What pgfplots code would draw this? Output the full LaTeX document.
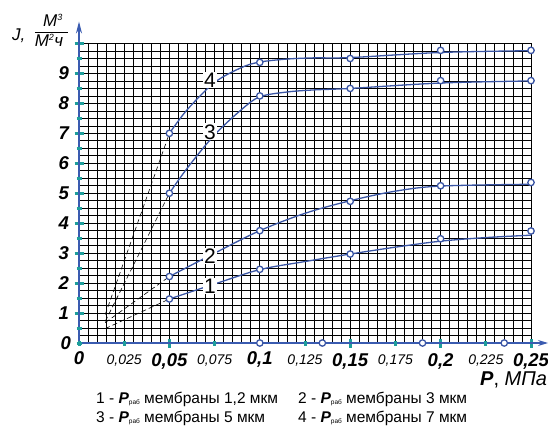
\documentclass[border=0pt]{standalone}
\usepackage{fontspec}
\setmainfont{Liberation Sans}
\usepackage{pgfplots}
\pgfplotsset{compat=1.18}
\usetikzlibrary{arrows.meta}
\definecolor{crvblue}{HTML}{3A55A4}
\definecolor{axblue}{HTML}{3A5BB0}
\definecolor{tickteal}{HTML}{1E9E9B}
\newcommand{\fs}[1]{\fontsize{#1}{#1}\selectfont}
\newcommand{\Prab}{{\bfseries\itshape P}\raisebox{-1.5pt}{\fs{6.5}раб}}
\pgfplotsset{
  crv/.style={crvblue, line width=1.3pt, smooth, tension=0.55},
  pts/.style={only marks, mark=*, mark size=3.2pt,
    mark options={draw=crvblue, fill=white, line width=1.3pt}},
  ext/.style={black, line width=0.6pt, dash pattern=on 5pt off 3pt},
}
\begin{document}
\begin{tikzpicture}
\begin{axis}[
  at={(0,0)}, anchor=origin,
  scale only axis, width=452pt, height=299.5pt,
  xmin=0, xmax=0.25, ymin=0, ymax=10,
  clip=false,
  axis lines=left,
  axis line style={axblue, line width=1.3pt},
  x axis line style={-{Stealth[length=10pt,width=6pt]}, shorten >=-17pt},
  y axis line style={-{Stealth[length=12pt,width=6pt]}, shorten >=-22pt},
  grid=minor,
  minor grid style={black, line width=0.7pt},
  minor xtick={0,0.005,...,0.25},
  minor ytick={0,0.25,...,10},
  minor tick length=0pt,
  tick align=center,
  major tick length=9pt,
  xtick={0.05,0.15,0.2,0.25},
  xticklabels={{0,05},{0,15},{0,2},{0,25}},
  ytick={1,2,...,10},
  yticklabels={1,2,3,4,5,6,7,8,9,{}},
  every major tick/.append style={tickteal, line width=3pt},
  ticklabel style={font=\fs{18.5}\bfseries\itshape},
  xticklabel style={anchor=base, yshift=-19pt},
  yticklabel style={anchor=east, xshift=-2pt},
  extra x ticks={0,0.025,0.075,0.1,0.125,0.175,0.225},
  extra x tick labels={{\fs{18.5}\bfseries 0},{0,025},{0,075},{\fs{18.5}\bfseries 0,1},{0,125},{0,175},{0,225}},
  extra x tick style={grid=none, major tick length=5pt,
    tick style={axblue, line width=1pt},
    tick label style={font=\fs{14}\itshape}},
  extra y ticks={0,0.5,1.5,2.5,3.5,4.5,5.5,6.5,7.5,8.5,9.5},
  extra y tick labels={0,{},{},{},{},{},{},{},{},{},{}},
  extra y tick style={grid=none, major tick length=5pt,
    tick style={axblue, line width=1pt}},
]
% extrapolation to low pressure
\addplot[ext] coordinates {(0.0145,0.95) (0.05,7.0)};
\addplot[ext] coordinates {(0.0145,0.72) (0.05,5.0)};
\addplot[ext] coordinates {(0.0145,0.68) (0.05,2.22)};
\addplot[ext] coordinates {(0.0145,0.48) (0.05,1.47)};
% fitted curves
\addplot[crv] coordinates {(0.05,1.47) (0.075,1.97) (0.1,2.45) (0.125,2.72) (0.15,2.97) (0.175,3.2) (0.2,3.4) (0.225,3.52) (0.25,3.6)};
\addplot[crv] coordinates {(0.05,2.22) (0.075,3.0) (0.1,3.75) (0.125,4.33) (0.15,4.75) (0.175,5.07) (0.2,5.24) (0.25,5.3)};
\addplot[crv] coordinates {(0.05,5.0) (0.06,5.85) (0.075,6.95) (0.09,7.8) (0.1,8.22) (0.115,8.38) (0.13,8.45) (0.15,8.5) (0.2,8.68) (0.25,8.75)};
\addplot[crv] coordinates {(0.05,7.0) (0.06,7.8) (0.075,8.7) (0.09,9.2) (0.1,9.38) (0.115,9.48) (0.13,9.52) (0.15,9.53) (0.2,9.7) (0.25,9.76)};
% measured points
\addplot[pts] coordinates {(0.05,1.47) (0.1,2.46) (0.15,2.97) (0.2,3.48) (0.25,3.74)};
\addplot[pts] coordinates {(0.05,2.22) (0.1,3.75) (0.15,4.73) (0.2,5.25) (0.25,5.36)};
\addplot[pts] coordinates {(0.05,5.0) (0.1,8.25) (0.15,8.5) (0.2,8.76) (0.25,8.76)};
\addplot[pts] coordinates {(0.05,7.0) (0.1,9.37) (0.15,9.5) (0.2,9.77) (0.25,9.77)};
\addplot[pts] coordinates {(0.1,0) (0.1346,0) (0.19,0) (0.2352,0)};
% curve numbers
\node[fill=white, inner sep=1pt, font=\fs{21}] at (axis cs:0.0725,8.78) {4};
\node[fill=white, inner sep=1pt, font=\fs{21}] at (axis cs:0.0725,7.05) {3};
\node[fill=white, inner sep=1pt, font=\fs{21}] at (axis cs:0.0725,2.9) {2};
\node[fill=white, inner sep=1pt, font=\fs{21}] at (axis cs:0.0725,1.9) {1};
\end{axis}
% axis titles
\node[anchor=base west, inner sep=0pt, font=\fs{20}] at (401pt,-42pt) {{\bfseries\itshape P}, \itshape МПа};
\node[anchor=base west, inner sep=0pt, font=\fs{17}\itshape] at (-67pt,302pt) {J,};
\draw[line width=0.7pt] (-44pt,311pt) -- (-11pt,311pt);
\node[anchor=base, inner sep=0pt, font=\fs{17}\itshape] at (-26pt,316pt) {М\textsuperscript{\fs{9}3}};
\node[anchor=base, inner sep=0pt, font=\fs{17}\itshape] at (-30pt,296pt) {М\textsuperscript{\fs{9}2}ч};
% legend
\node[anchor=base west, inner sep=0pt, font=\fs{15.5}] at (17pt,-60pt) {1 - \Prab{} мембраны 1,2 мкм};
\node[anchor=base west, inner sep=0pt, font=\fs{15.5}] at (219pt,-60pt) {2 - \Prab{} мембраны 3 мкм};
\node[anchor=base west, inner sep=0pt, font=\fs{15.5}] at (17pt,-79pt) {3 - \Prab{} мембраны 5 мкм};
\node[anchor=base west, inner sep=0pt, font=\fs{15.5}] at (219pt,-79pt) {4 - \Prab{} мембраны 7 мкм};
\pgfresetboundingbox
\useasboundingbox (-79pt,-85pt) rectangle (469pt,343pt);
\end{tikzpicture}
\end{document}
